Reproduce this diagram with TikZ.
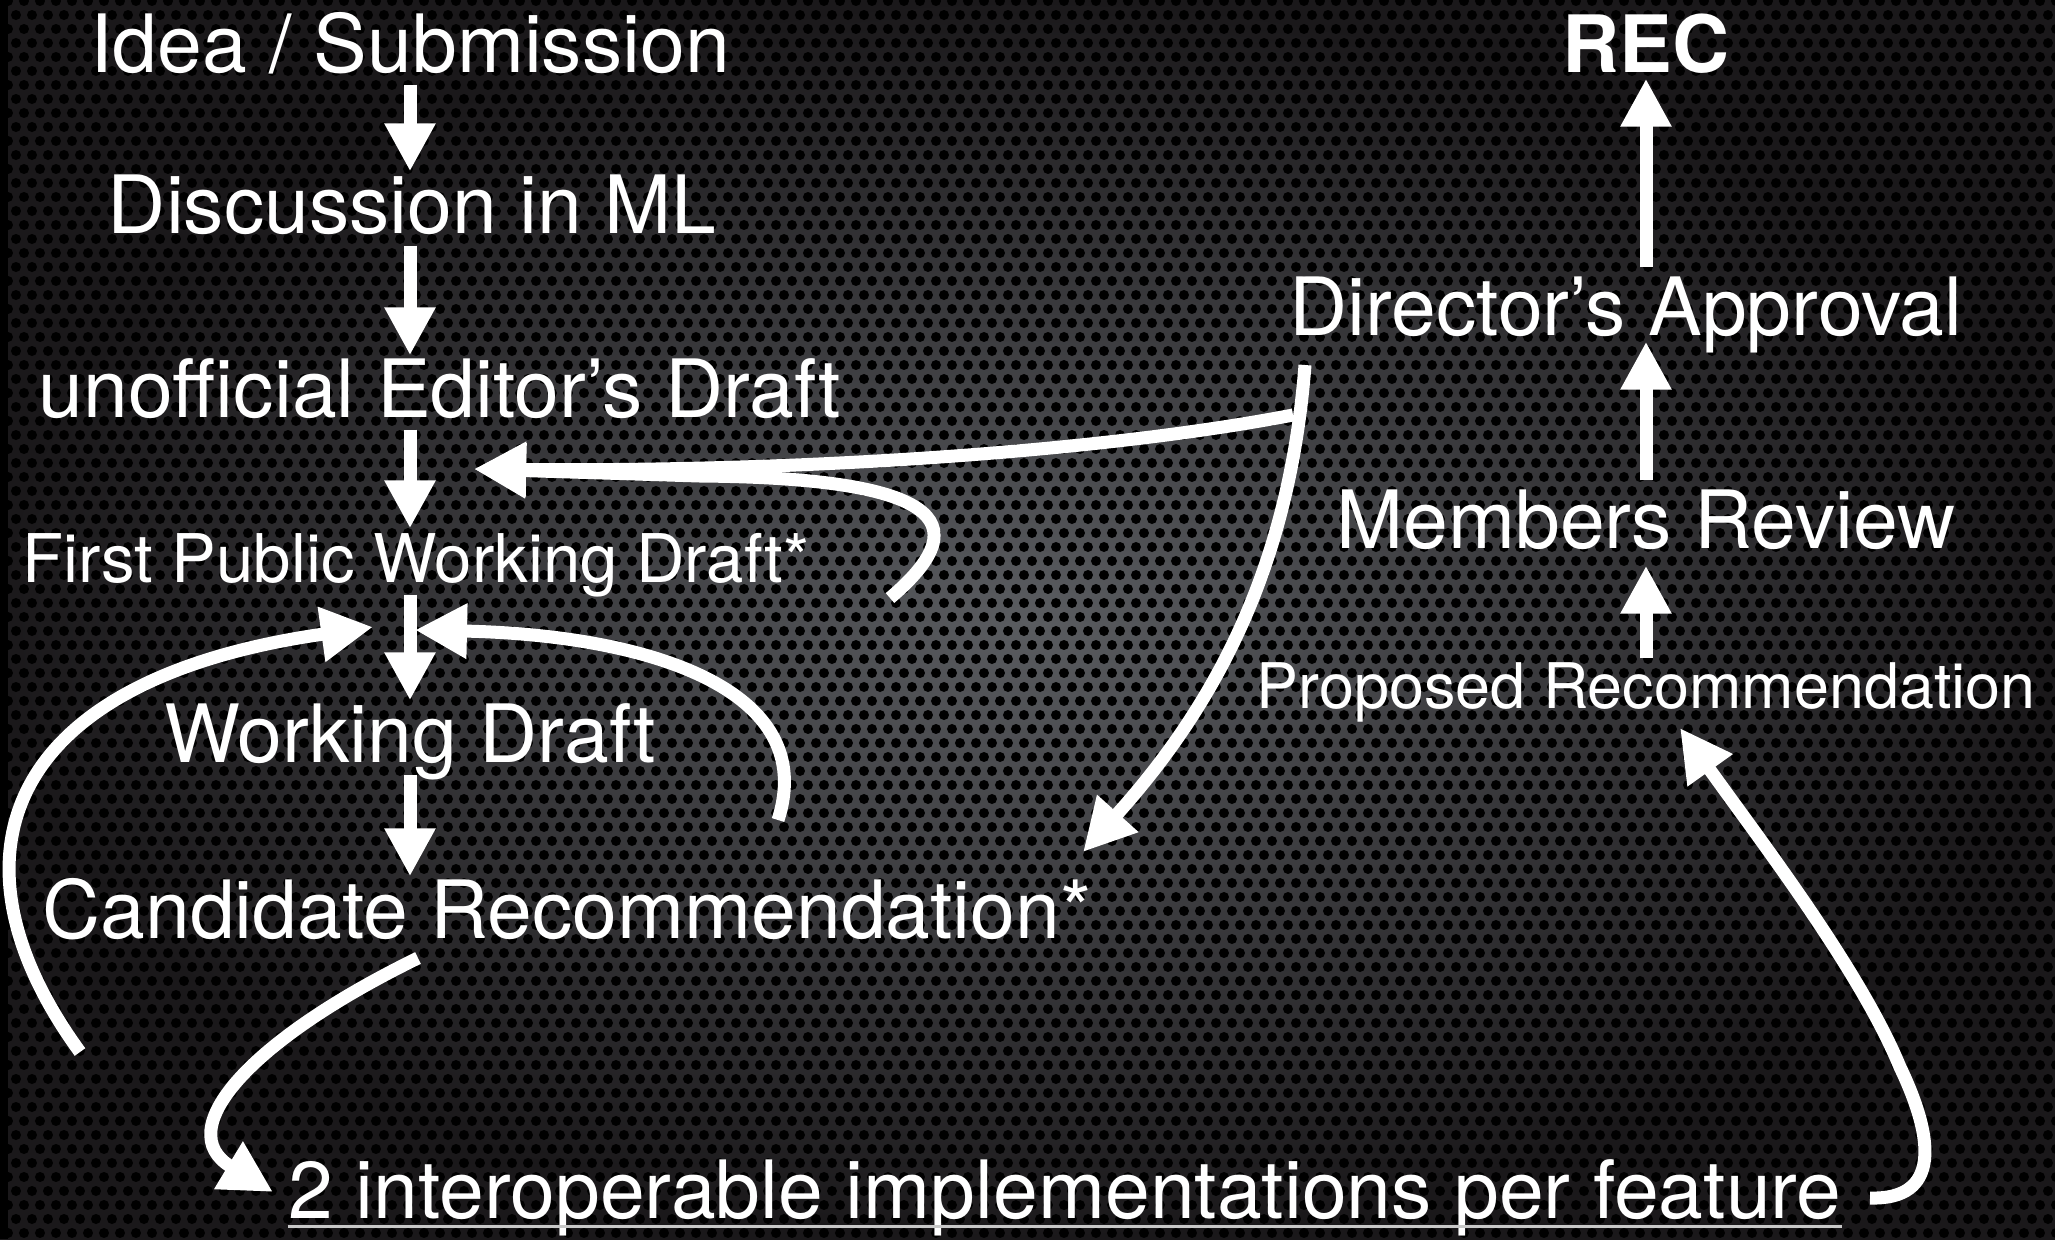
\documentclass[tikz,border=0pt]{standalone}
\usepackage{fontspec}
\setmainfont{TeX Gyre Heros}
\usetikzlibrary{arrows.meta,patterns.meta}

\definecolor{bgmid}{HTML}{5A5C60}
\definecolor{bgedge}{HTML}{1A181A}
\definecolor{uline}{HTML}{C8C8C8}

\tikzdeclarepattern{
  name=holes,
  type=uncolored,
  bottom left={(0mm,0mm)},
  top right={(1.6mm,2.8mm)},
  tile size={(1.6mm,2.8mm)},
  code={
    \fill (0.8mm,0.7mm) circle (0.5mm);
    \fill (0mm,2.1mm) circle (0.5mm);
    \fill (1.6mm,2.1mm) circle (0.5mm);
  }
}

\begin{document}
\begin{tikzpicture}[x=0.1mm, y=-0.1mm,
    lbl/.style={white, inner sep=0pt, anchor=base, text height=5.5mm, text depth=0pt, font=\fontsize{22.9}{27}\selectfont},
    slbl/.style={lbl, text height=4.7mm, font=\fontsize{19.1}{23}\selectfont},
    flow/.style={white, line width=1.3mm, -{Triangle[width=5.2mm,length=5.2mm]}},
    vflow/.style={flow, -{Triangle[width=4.8mm,length=4.8mm]}, shorten <=1.2mm, shorten >=0.6mm}]
    % background
    \useasboundingbox (0,0) rectangle (2055,1239);
    \shade[inner color=bgmid, outer color=bgedge] (0,0) rectangle (2055,1239);
    \fill[pattern=holes, pattern color=black] (0,0) rectangle (2055,1239);
    \fill[black] (0,0) rectangle (8,1239);

    \node[lbl] (idea) at (410,72) {Idea / Submission};
    \node[lbl] (disc) at (412,233) {Discussion in ML};
    \node[lbl] (ed) at (440,417) {unofficial Editor’s Draft};
    \node[slbl] (fpwd) at (416,582) {First Public Working Draft*};
    \node[lbl] (wd) at (410,762) {Working Draft};
    \node[lbl] (cr) at (567,938) {Candidate Recommendation*};
    \node[lbl] (impl) at (1065,1218) {2 interoperable implementations per feature};
    \node[slbl, font=\fontsize{17.9}{21}\selectfont] (pr) at (1646,708) {Proposed Recommendation};
    \node[lbl] (mr) at (1646,548) {Members Review};
    \node[lbl] (da) at (1626,335) {Director’s Approval};
    \node[lbl, font=\fontsize{22.5}{26}\selectfont\bfseries] (rec) at (1646,72) {REC};

    \coordinate (col) at (410,0);
    \coordinate (rcol) at (1646,0);
    \coordinate (edgap) at (474,469);
    \coordinate (wdgapl) at (373,627);
    \coordinate (wdgapr) at (415,630);
    \coordinate (da1) at (1293,415);
    \coordinate (da2) at (1305,365);
    \coordinate (fpwdloop) at (890,598);
    \coordinate (wdloop) at (778,820);
    \coordinate (crback) at (80,1052);
    \coordinate (crin) at (1083,852);
    \coordinate (crout) at (418,958);
    \coordinate (implin) at (273,1192);
    \coordinate (implout) at (1870,1198);
    \coordinate (prin) at (1680,728);

    \draw[vflow] (idea.south -| col) -- (disc.north -| col);
    \draw[vflow] (disc.south -| col) -- (ed.north -| col);
    \draw[vflow] (ed.south -| col) -- (fpwd.north -| col);
    \draw[vflow] (fpwd.south -| col) -- (wd.north -| col);
    \draw[vflow] (wd.south -| col) -- (cr.north -| col);
    \draw[vflow, shorten <=0.2mm, shorten >=1.7mm] (pr.north -| rcol) -- (mr.south -| rcol);
    \draw[vflow] (mr.north -| rcol) -- (da.south -| rcol);
    \draw[vflow] (da.north -| rcol) -- (rec.south -| rcol);

    \draw[flow] (da1) .. controls (1100,452) and (800,472) .. (edgap);
    \draw[flow] (fpwdloop) .. controls (970,530) and (960,478) .. (700,476) -- (edgap);
    \draw[flow] (da2) .. controls (1290,560) and (1220,700) .. (crin);
    \draw[flow] (crback) .. controls (-60,860) and (0,680) .. (wdgapl);
    \draw[flow] (wdloop) .. controls (820,690) and (650,635) .. (wdgapr);
    \draw[flow] (crout) .. controls (250,1040) and (170,1130) .. (implin);
    \draw[flow] (implout) .. controls (1940,1200) and (1935,1140) .. (1900,1067)
        .. controls (1860,970) and (1760,840) .. (prin);

    \draw[uline, line width=0.3mm] ([yshift=-0.8mm]impl.base west) -- ([yshift=-0.8mm]impl.base east);
\end{tikzpicture}
\end{document}
